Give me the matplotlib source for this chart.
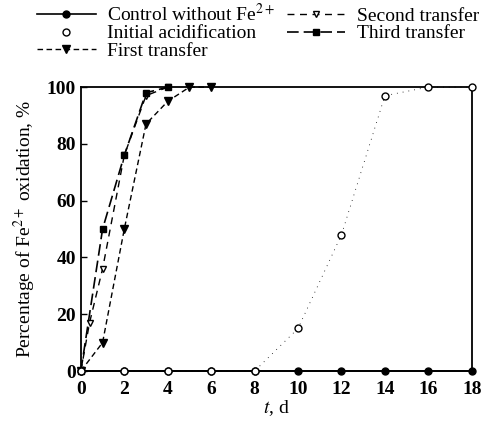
import numpy as np
import matplotlib.pyplot as plt
from matplotlib.lines import Line2D

plt.rcParams['font.family'] = ['Liberation Serif', 'DejaVu Serif']
plt.rcParams['mathtext.fontset'] = 'stix'

# data
t_control = [0, 2, 4, 6, 8, 10, 12, 14, 16, 18]
y_control = [0, 0, 0, 0, 0, 0, 0, 0, 0, 0]

t_init = [0, 2, 4, 6, 8, 10, 12, 14, 16, 18]
y_init = [0, 0, 0, 0, 0, 15, 48, 97, 100, 100]

t_first = [0, 1, 2, 3, 4, 5, 6]
y_first = [0, 10, 50, 87, 95, 100, 100]

t_second = [0, 0.4, 1, 2, 3, 4]
y_second = [0, 17, 36, 76, 97, 100]

t_third = [0, 1, 2, 3, 4]
y_third = [0, 50, 76, 98, 100]

fig = plt.figure(figsize=(4.93, 4.25), dpi=100)
ax = fig.add_axes([0.164, 0.127, 0.793, 0.668])

ax.plot(t_control, y_control, 'k-', marker='o', ms=5, lw=1.3, clip_on=False,
        zorder=3)
ax.plot(t_init, y_init, color='k', ls=(0, (1, 6)), lw=0.6, marker='o',
        mfc='white', mec='k', ms=5, clip_on=False, zorder=4)
ax.plot(t_first, y_first, 'k', ls=(0, (4, 2.5)), lw=1.0, marker='v', ms=6,
        clip_on=False)
ax.plot(t_second, y_second, 'k', ls=(0, (5, 4)), lw=1.0, marker='v', ms=5,
        mfc='white', clip_on=False)
ax.plot(t_third, y_third, 'k', ls=(0, (7, 3)), lw=1.2, marker='s', ms=5,
        clip_on=False)

ax.set_xlim(0, 18)
ax.set_ylim(0, 100)
ax.set_xticks(np.arange(0, 19, 2))
ax.set_yticks(np.arange(0, 101, 20))
ax.tick_params(direction='in', length=4, labelsize=14, width=1)
ax.tick_params(axis='x', length=0, pad=7)
for lab in ax.get_xticklabels() + ax.get_yticklabels():
    lab.set_fontweight('bold')
for s in ax.spines.values():
    s.set_linewidth(1.3)

ax.set_xlabel('$t$, d', fontsize=14, labelpad=0)
ax.set_ylabel('Percentage of Fe$^{2+}$ oxidation, %', fontsize=14, labelpad=6)

handles = [
    Line2D([], [], color='k', ls='-', lw=1.2, marker='o', ms=5),
    Line2D([], [], color='k', ls='none', marker='o', mfc='white', ms=5),
    Line2D([], [], color='k', ls=(0, (4, 2.5)), lw=1.0, marker='v', ms=6),
    Line2D([], [], color='k', ls=(0, (5, 4)), lw=1.0, marker='v', ms=5,
           mfc='white'),
    Line2D([], [], color='k', ls=(0, (7, 3)), lw=1.2, marker='s', ms=5),
]
labels = ['Control without Fe$^{2+}$', 'Initial acidification',
          'First transfer', 'Second transfer', 'Third transfer']
fig.legend(handles, labels, loc='upper left', bbox_to_anchor=(0.04, 1.035),
           ncol=2, frameon=False, fontsize=14, handlelength=3.0,
           columnspacing=0.6, handletextpad=0.6, labelspacing=0.0)

plt.savefig('out.png', dpi=100)
